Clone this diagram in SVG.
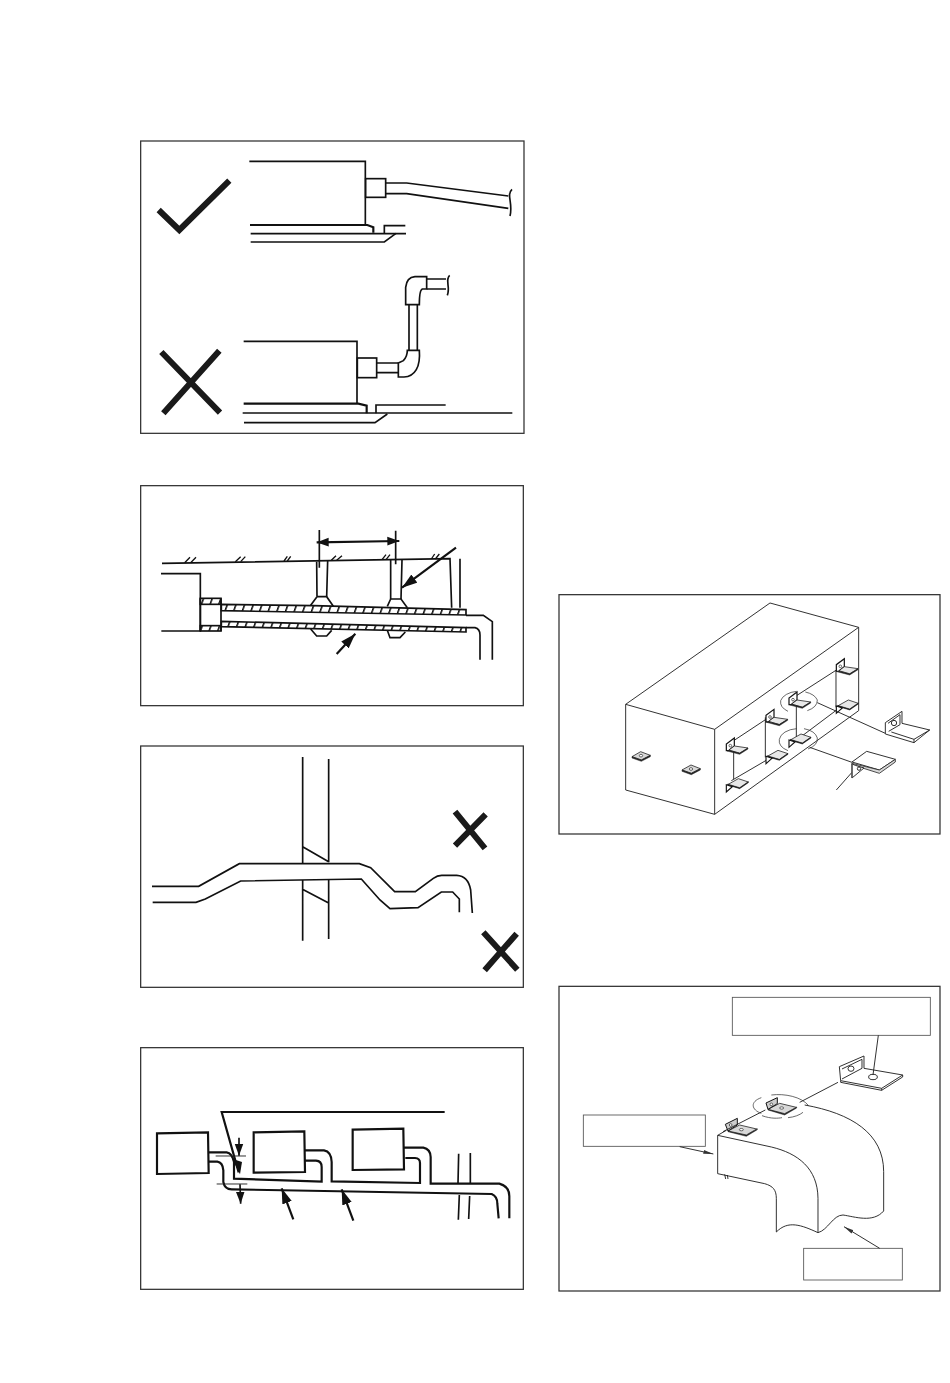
<svg xmlns="http://www.w3.org/2000/svg" width="950" height="1383" viewBox="0 0 950 1383">
<defs>
<style>
.frame{fill:#fff;stroke:#333;stroke-width:3.8}
.l{fill:none;stroke:#111;stroke-width:5}
.m{fill:none;stroke:#111;stroke-width:6.5}
.t{fill:none;stroke:#222;stroke-width:2.8}
.h{fill:#fff;stroke:#222;stroke-width:2.8}
.g{fill:none;stroke:#333;stroke-width:2.2}
.b{fill:#fff;stroke:#555;stroke-width:2.6}
.x{fill:none;stroke:#1a1a1a;stroke-width:18}
.w{fill:#fff;stroke:#111;stroke-width:5}
.p{fill:#d8d8d8;stroke:#222;stroke-width:2.4}
.k{fill:#222;stroke:#222;stroke-width:1.5}
.o{fill:#fff;stroke:#222;stroke-width:2}
</style>
<pattern id="hatch" patternUnits="userSpaceOnUse" width="26" height="40" patternTransform="skewX(-20)"><rect width="26" height="40" fill="#fff"/><rect width="5" height="40" fill="#111"/></pattern>
<marker id="ah" markerUnits="userSpaceOnUse" markerWidth="48" markerHeight="34" refX="46" refY="17" orient="auto"><path d="M0,2 L46,17 L0,32 Z" fill="#111"/></marker>
<marker id="ahd" markerUnits="userSpaceOnUse" markerWidth="38" markerHeight="30" refX="36" refY="15" orient="auto"><path d="M0,2 L36,15 L0,28 Z" fill="#111"/></marker>
<marker id="ahs" markerUnits="userSpaceOnUse" markerWidth="38" markerHeight="30" refX="0" refY="15" orient="auto"><path d="M36,2 L0,15 L36,28 Z" fill="#111"/></marker>
<marker id="ahg" markerUnits="userSpaceOnUse" markerWidth="32" markerHeight="16" refX="30" refY="8" orient="auto"><path d="M0,2 L30,8 L0,14 Z" fill="#333"/></marker>
<g id="bracket-up">
<path d="M0,0 V-20 L24,-38 V-14 L8,-1 Z" fill="#fff" stroke="#111" stroke-width="3.6"/>
<circle cx="12" cy="-15" r="4" class="o"/>
<path d="M8,-2 L24,-14 L65,-8 L40,8 Z" fill="#e8e8e8" stroke="#222" stroke-width="2.4"/>
<path d="M2,1 L40,11 L65,-5 V-8 L40,7 L8,-1 Z" class="k"/>
</g>
<g id="bracket-down">
<path d="M4,-18 L36,-36 L66,-26 L40,-8 Z" fill="#e8e8e8" stroke="#222" stroke-width="2.4"/>
<path d="M4,-17 L40,-6 L66,-24 V-27 L40,-9 L4,-20 Z" class="k"/>
<path d="M0,-18 V4 L18,-12 Z" fill="#fff" stroke="#111" stroke-width="3.4"/>
</g>
</defs>

<g id="panel-1" transform="translate(140,140) scale(0.33333)">
<rect class="frame" x="2" y="3" width="1150" height="877"/>
<g id="check-mark"><path class="x" d="M56,210 L118,270 L268,122"/></g>
<g id="cross-mark-1"><path class="x" d="M64,636 L240,818 M238,632 L70,820"/></g>
<g id="unit-correct">
<path class="l" d="M328,64 H676 V252"/>
<path class="m" d="M330,255 H682 L700,262 V278"/>
<path class="l" d="M733,280 V257 H796"/>
<path class="l" d="M332,281 H798"/>
<path class="l" d="M332,306 H733 L768,280"/>
<rect class="w" x="677" y="116" width="60" height="56"/>
<path class="l" d="M737,129 H800 L1105,168"/>
<path class="l" d="M737,161 H800 L1105,205"/>
<path class="l" d="M1116,148 C1098,165 1120,190 1110,228"/>
</g>
<g id="unit-wrong">
<path class="l" d="M311,604 H651 V790"/>
<path class="m" d="M311,791 H655 L680,797 V820"/>
<path class="l" d="M708,820 V795 H917"/>
<path class="l" d="M308,819 H1117"/>
<path class="l" d="M312,848 H705 L742,822"/>
<rect class="w" x="652" y="654" width="58" height="59"/>
<path class="l" d="M710,669 H775 M710,698 H775"/>
<path class="w" d="M775,669 L790,662 Q802,650 802,631 H838 C842,680 825,710 792,711 H775 Z"/>
<path class="l" d="M807,630 V494 M832,630 V494"/>
<path class="w" d="M797,494 V442 Q800,412 825,410 H860 V447 H847 Q838,450 838,494 Z"/>
<path class="l" d="M860,417 H918 M860,447 H918"/>
<path class="l" d="M929,406 C914,420 932,440 922,466"/>
</g>
</g>

<g id="panel-2" transform="translate(140,485) scale(0.33333)">
<rect class="frame" x="2" y="2" width="1148" height="660"/>
<g id="ceiling">
<path class="l" d="M66,235 L930,221 L935,368 M960,221 V368"/>
<path class="l" d="M134,233 L150,217 M152,233 L168,217 M286,230 L302,215 M302,230 L316,215 M432,228 L442,214 M442,228 L452,214 M574,226 L588,212 M590,226 L606,212 M726,224 L738,209 M738,224 L750,209 M874,222 L884,207 M886,222 L898,207" style="stroke-width:4"/>
</g>
<g id="hangers">
<path class="l" d="M530,230 L531,335 M563,228 L560,335 M752,225 V342 M786,225 L783,342"/>
<path class="l" d="M531,335 L512,361 M531,335 H560 L580,364 M752,342 L742,364 M752,342 H783 L802,368"/>
<path class="l" d="M512,432 L530,453 H560 L575,436 M742,436 L750,458 H780 L796,441"/>
</g>
<g id="indoor-unit">
<path class="l" d="M63,266 H181 V438 H64"/>
<rect x="181" y="340" width="62" height="18" fill="url(#hatch)" stroke="#111" stroke-width="5"/>
<rect x="181" y="422" width="62" height="16" fill="url(#hatch)" stroke="#111" stroke-width="5"/>
<path class="l" d="M181,340 V438 M243,340 V438"/>
</g>
<g id="insulated-pipe">
<path d="M244,358 L520,362 L978,374 V390 L244,377 Z" fill="url(#hatch)" stroke="#111" stroke-width="5"/>
<path d="M244,409 L978,428 V441 L244,425 Z" fill="url(#hatch)" stroke="#111" stroke-width="5"/>
<path class="l" d="M978,391 H1030 L1057,410 V524"/>
<path class="l" d="M978,428 H1005 Q1020,432 1020,450 V524"/>
</g>
<g id="connectors-2">
<path class="l" d="M538,135 V248 M767,137 V238"/>
<path class="m" d="M530,172 L778,168" marker-start="url(#ahs)" marker-end="url(#ahd)"/>
<path class="m" d="M948,188 L786,308" marker-end="url(#ah)"/>
<path class="m" d="M590,507 L646,446" marker-end="url(#ah)"/>
</g>
</g>

<g id="panel-3" transform="translate(140,745) scale(0.33333)">
<rect class="frame" x="2" y="3" width="1148" height="724"/>
<g id="wall">
<path class="l" d="M488,36 V356 M566,42 V352 M488,305 L566,350"/>
<path class="l" d="M488,405 V587 M566,405 V582 M486,432 L566,474"/>
</g>
<g id="pipe">
<path class="l" d="M36,424 H176 L298,356 H658 L692,368 L764,440 H826 L880,400 Q892,391 905,391 H950 Q985,393 992,435 L997,504"/>
<path class="l" d="M38,472 H168 L196,462 L302,408 L664,402 L720,465 L750,491 L834,488 L904,441 H938 L958,462 V502"/>
</g>
<g id="cross-mark-2"><path class="x" d="M945,200 L1035,310 M1037,208 L945,302"/></g>
<g id="cross-mark-3"><path class="x" d="M1030,562 L1132,674 M1130,566 L1034,676"/></g>
</g>

<g id="panel-4" transform="translate(140,1047) scale(0.33333)">
<rect class="frame" x="2" y="2" width="1148" height="725"/>
<g id="unit-a"><path class="m" d="M51,259 L204,256 L206,378 L51,381 Z"/></g>
<g id="unit-b"><path class="m" d="M341,256 L493,253 L495,375 L341,377 Z"/></g>
<g id="unit-c"><path class="m" d="M638,248 L790,245 L792,367 L638,369 Z"/></g>
<g id="pipes-4">
<path class="m" d="M206,316 H260 Q276,318 282,345 V395 L545,404 V360 Q545,342 528,341 H495"/>
<path class="m" d="M206,344 H232 Q248,346 250,370 V405 Q254,427 275,427 L1055,441 Q1072,448 1072,470 L1076,514"/>
<path class="m" d="M495,310 H552 Q574,314 575,345 V403 L840,408 V348 Q840,334 825,333 H796"/>
<path class="m" d="M792,302 H850 Q871,306 872,330 V410 H1078 Q1108,418 1108,448 V514"/>
<path class="l" d="M956,320 L954,410 M991,318 V410 M958,444 L955,518 M989,447 L986,516"/>
</g>
<g id="connectors-4">
<path class="m" d="M914,195 H245 L296,376"/>
<path d="M276,335 L306,345 L300,382 Z" fill="#111"/>
<path class="t" d="M227,327 H318 M230,411 H322"/>
<path class="l" d="M297,272 V326" marker-end="url(#ahd)"/>
<path class="l" d="M300,412 L302,470" marker-end="url(#ahd)"/>
<path class="m" d="M460,517 L425,424" marker-end="url(#ah)"/>
<path class="m" d="M640,521 L605,427" marker-end="url(#ah)"/>
</g>
</g>

<g id="panel-5" transform="translate(558,594) scale(0.33333)">
<rect class="frame" x="3" y="2" width="1143" height="718"/>
<g id="box">
<path class="t" d="M203,331 L636,27 L902,100 V350 L470,661 L203,588 Z"/>
<path class="t" d="M203,331 L470,406 L902,100 M470,406 V661"/>
</g>
<g id="box-links">
<path class="t" d="M515,448 L645,362 M520,560 L640,490 M527,462 V555 M622,370 V490 M700,315 L840,225 M700,450 L840,345 M715,325 V430 M834,230 V340"/>
</g>
<use href="#bracket-up" x="505" y="470"/>
<use href="#bracket-down" x="505" y="590"/>
<use href="#bracket-up" x="624" y="384"/>
<use href="#bracket-down" x="624" y="505"/>
<use href="#bracket-up" x="693" y="332"/>
<use href="#bracket-down" x="693" y="456"/>
<use href="#bracket-up" x="835" y="232"/>
<use href="#bracket-down" x="835" y="354"/>
<g id="pads">
<path d="M222,488 L248,473 L277,484 L250,498 Z" class="p"/>
<path d="M222,488 L250,498 L277,484 V488 L250,502 L222,492 Z" class="k"/>
<ellipse cx="249" cy="485" rx="5" ry="4" class="o"/>
<path d="M372,528 L399,513 L427,524 L400,538 Z" class="p"/>
<path d="M372,528 L400,538 L427,524 V528 L400,542 L372,532 Z" class="k"/>
<ellipse cx="399" cy="525" rx="5" ry="4" class="o"/>
</g>
<g id="callout-circles">
<path class="g" d="M690,352 A58,36 0 0 1 668,320 A58,36 0 0 1 716,292 M742,294 A58,36 0 0 1 778,318 A58,36 0 0 1 748,350"/>
<path class="g" d="M690,470 A58,36 0 0 1 664,436 A58,36 0 0 1 716,404 M738,404 A58,36 0 0 1 778,432 A58,36 0 0 1 750,465"/>
</g>
<g id="callout-lines">
<path class="t" d="M778,326 L982,418 M755,460 L882,505 M882,535 L835,588"/>
</g>
<g id="bracket-large-1">
<path class="h" d="M982,386 L1032,352 V388 L1115,408 L1068,446 L982,420 Z"/>
<path class="t" d="M990,388 L1026,362 V392 L992,412 M1000,414 L1068,436 L1115,408 M1068,436 V446"/>
<ellipse cx="1008" cy="387" rx="8" ry="8" class="h"/>
</g>
<g id="bracket-large-2">
<path class="h" d="M882,504 L926,472 L1012,496 L964,528 Z"/>
<path class="p" d="M882,508 L964,528 L1012,496 V504 L964,538 L882,512 Z"/>
<path class="h" d="M882,510 V552 L918,522 L892,514 Z"/>
<path d="M882,508 V552" stroke="#555" stroke-width="4" fill="none"/>
<ellipse cx="903" cy="524" rx="5" ry="5" class="h"/>
</g>
</g>

<g id="panel-6" transform="translate(558,985) scale(0.33333)">
<rect class="frame" x="3" y="4" width="1143" height="914"/>
<g id="label-box-top"><rect class="b" x="523" y="37" width="594" height="114"/></g>
<g id="label-box-left"><rect class="b" x="76" y="390" width="366" height="94"/></g>
<g id="label-box-bottom"><rect class="b" x="737" y="790" width="296" height="95"/></g>
<g id="duct">
<path class="t" d="M479,451 L640,486 C720,505 779,550 780,640 V743"/>
<path class="t" d="M479,451 V566 L620,596 C645,603 655,615 655,640 V741 C690,705 730,720 780,743 C810,735 825,690 855,690 C890,695 945,715 977,678 V560 C977,445 880,385 740,360"/>
<path class="t" d="M479,451 L505,436 M500,568 L503,582 M508,570 L510,582"/>
</g>
<g id="duct-brackets">
<path class="k" d="M510,440 L565,454 L598,434 V431 L565,449 L510,436 Z"/>
<path class="p" d="M510,438 L545,420 L596,432 L565,450 Z"/>
<path d="M502,418 L538,400 V420 L510,438 Z" fill="#ccc" stroke="#111" stroke-width="3"/>
<ellipse cx="518" cy="420" rx="4" ry="4" class="o"/>
<ellipse cx="550" cy="434" rx="6" ry="3.5" class="o"/>
<path class="k" d="M630,375 L680,390 L716,369 V366 L680,385 L630,371 Z"/>
<path class="p" d="M630,373 L665,355 L715,367 L680,386 Z"/>
<path d="M624,354 L658,338 V356 L630,373 Z" fill="#ccc" stroke="#111" stroke-width="3"/>
<ellipse cx="640" cy="358" rx="4" ry="4" class="o"/>
<ellipse cx="671" cy="369" rx="6" ry="3.5" class="o"/>
<path class="g" d="M610,385 C580,375 575,350 610,338 M640,330 C680,325 730,335 752,362 M612,392 C640,402 660,400 672,398 M690,398 C710,396 725,390 735,382"/>
</g>
<g id="bracket-large">
<path class="h" d="M844,245 L918,213 V250 L1034,270 V276 L971,316 L848,292 V287 Z"/>
<path class="t" d="M852,252 L912,223 V250 L852,282 M848,287 L971,310 L1034,270 M971,310 V316"/>
<ellipse cx="879" cy="251" rx="9" ry="8" class="h"/>
<ellipse cx="945" cy="276" rx="13" ry="8" class="h"/>
</g>
<g id="connectors-6">
<path class="t" d="M840,292 L725,352 M622,375 L495,440 M961,151 L945,270"/>
<path class="t" d="M365,485 L466,507" marker-end="url(#ahg)"/>
<path class="t" d="M965,790 L858,725" marker-end="url(#ahg)"/>
</g>
</g>
</svg>
